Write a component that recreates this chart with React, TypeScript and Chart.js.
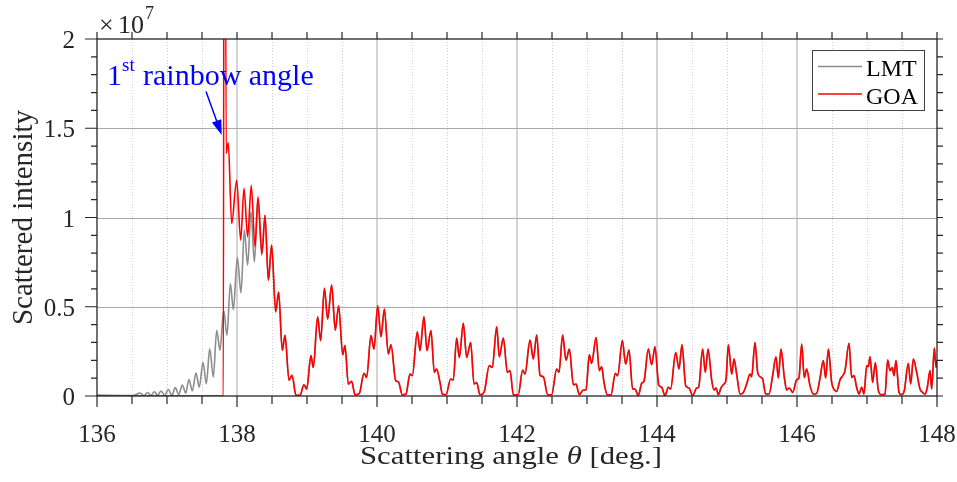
import { useEffect, useRef } from "react";
import { Chart, registerables } from "chart.js";

Chart.register(...registerables);

// Scattering angle (deg) and GOA intensity (x 1e7)
const goaTheta = [
  136.0, 137.805, 137.82, 137.845, 137.875, 137.924, 137.995, 138.053, 138.1, 138.152,
  138.204, 138.257, 138.3, 138.357, 138.4, 138.448, 138.495, 138.552, 138.595, 138.647,
  138.686, 138.743, 138.786, 138.843, 138.9, 138.957, 138.995, 139.057, 139.09, 139.152,
  139.195, 139.248, 139.295, 139.352, 139.404, 139.452, 139.51, 139.543, 139.59, 139.638,
  139.686, 139.748, 139.814, 139.852, 139.914, 139.957, 140.01, 140.057, 140.105, 140.162,
  140.2, 140.267, 140.305, 140.362, 140.414, 140.471, 140.505, 140.576, 140.614, 140.671,
  140.714, 140.771, 140.819, 140.852, 140.9, 140.933, 140.986, 141.052, 141.09, 141.138,
  141.176, 141.233, 141.281, 141.338, 141.386, 141.424, 141.471, 141.529, 141.604, 141.647,
  141.71, 141.747, 141.805, 141.862, 141.9, 141.948, 142.018, 142.081, 142.114, 142.186,
  142.233, 142.281, 142.328, 142.376, 142.438, 142.495, 142.567, 142.6, 142.652, 142.7,
  142.748, 142.805, 142.843, 142.89, 142.948, 142.986, 143.033, 143.067, 143.129, 143.176,
  143.21, 143.243, 143.29, 143.343, 143.405, 143.438, 143.505, 143.552, 143.6, 143.652,
  143.686, 143.733, 143.781, 143.814, 143.876, 143.924, 143.971, 144.024, 144.067, 144.114,
  144.162, 144.195, 144.267, 144.314, 144.357, 144.41, 144.457, 144.51, 144.567, 144.595,
  144.652, 144.69, 144.729, 144.781, 144.814, 144.843, 144.876, 144.914, 144.957, 144.986,
  145.019, 145.067, 145.1, 145.138, 145.186, 145.233, 145.281, 145.329, 145.352, 145.4,
  145.438, 145.471, 145.51, 145.552, 145.6, 145.652, 145.7, 145.733, 145.771, 145.819,
  145.852, 145.89, 145.938, 145.995, 146.029, 146.067, 146.104, 146.138, 146.186, 146.233,
  146.281, 146.329, 146.376, 146.41, 146.448, 146.495, 146.533, 146.567, 146.614, 146.662,
  146.686, 146.743, 146.781, 146.814, 146.852, 146.886, 146.924, 146.957, 146.995, 147.019,
  147.043, 147.081, 147.119, 147.162, 147.21, 147.257, 147.295, 147.329, 147.362, 147.386,
  147.414, 147.457, 147.495, 147.533, 147.59, 147.624, 147.662, 147.71, 147.757, 147.795,
  147.829, 147.862, 147.9, 147.924, 147.962, 147.986, 148.0,
];
const goaValue = [
  0.0, 0.0, 6.0, 1.36, 1.42, 0.966, 1.209, 0.873, 1.163, 0.892,
  1.181, 0.836, 1.116, 0.798, 1.013, 0.649, 0.845, 0.471, 0.583, 0.256,
  0.34, 0.088, 0.116, 0.004, 0.004, 0.063, 0.039, 0.226, 0.16, 0.444,
  0.31, 0.603, 0.431, 0.621, 0.369, 0.506, 0.231, 0.282, 0.067, 0.082,
  0.007, 0.015, 0.127, 0.104, 0.338, 0.263, 0.506, 0.332, 0.487, 0.235,
  0.287, 0.086, 0.08, 0.007, 0.011, 0.123, 0.114, 0.36, 0.254, 0.444,
  0.254, 0.366, 0.132, 0.151, 0.076, 0.011, 0.007, 0.095, 0.09, 0.325,
  0.216, 0.407, 0.216, 0.3, 0.067, 0.076, 0.007, 0.02, 0.17, 0.16,
  0.388, 0.22, 0.325, 0.132, 0.142, 0.007, 0.007, 0.146, 0.123, 0.313,
  0.207, 0.341, 0.118, 0.108, 0.007, 0.007, 0.151, 0.132, 0.341, 0.201,
  0.263, 0.063, 0.067, 0.007, 0.034, 0.034, 0.231, 0.183, 0.328, 0.142,
  0.164, 0.076, 0.007, 0.007, 0.127, 0.114, 0.31, 0.179, 0.257, 0.039,
  0.039, 0.002, 0.071, 0.082, 0.263, 0.175, 0.276, 0.063, 0.049, 0.002,
  0.049, 0.039, 0.244, 0.151, 0.287, 0.058, 0.045, 0.002, 0.045, 0.049,
  0.263, 0.132, 0.263, 0.09, 0.034, 0.045, 0.007, 0.045, 0.067, 0.09,
  0.287, 0.123, 0.207, 0.123, 0.011, 0.02, 0.067, 0.123, 0.108, 0.3,
  0.132, 0.108, 0.095, 0.011, 0.011, 0.114, 0.22, 0.101, 0.263, 0.104,
  0.034, 0.045, 0.02, 0.09, 0.104, 0.291, 0.104, 0.151, 0.058, 0.011,
  0.015, 0.101, 0.198, 0.101, 0.263, 0.076, 0.034, 0.026, 0.09, 0.119,
  0.142, 0.295, 0.104, 0.114, 0.049, 0.011, 0.049, 0.011, 0.17, 0.164,
  0.22, 0.076, 0.188, 0.03, 0.007, 0.011, 0.201, 0.142, 0.16, 0.114,
  0.198, 0.02, 0.007, 0.03, 0.183, 0.067, 0.207, 0.132, 0.039, 0.02,
  0.011, 0.049, 0.142, 0.039, 0.269, 0.16, 0.2,
];

// LMT below the rainbow angle; above 138.4 deg it follows the GOA curve
const lmtHeadTheta = [
  136.0, 136.52, 136.614, 136.67, 136.724, 136.77, 136.819, 136.866, 136.914, 136.967,
  137.019, 137.07, 137.119, 137.167, 137.219, 137.267, 137.314, 137.362, 137.414, 137.462,
  137.514, 137.562, 137.61, 137.662, 137.71, 137.757, 137.81, 137.857, 137.905, 137.948,
  138.005, 138.057, 138.105, 138.152, 138.2, 138.248, 138.3, 138.352,
];
const lmtHeadValue = [
  0.005, 0.003, 0.017, 0.002, 0.02, 0.003, 0.024, 0.004, 0.028, 0.004,
  0.036, 0.004, 0.047, 0.008, 0.062, 0.017, 0.092, 0.028, 0.129, 0.05,
  0.189, 0.069, 0.265, 0.107, 0.368, 0.256, 0.48, 0.34, 0.63, 0.484,
  0.776, 0.578, 0.929, 0.733, 1.032, 0.751, 1.1, 0.789,
];
const lmtJoinTheta = 138.4;

const xTickValues = [136, 138, 140, 142, 144, 146, 148];
const xTickLabels = ["136", "138", "140", "142", "144", "146", "148"];
const yTickValues = [0, 0.5, 1, 1.5, 2];
const yTickLabels = ["0", "0.5", "1", "1.5", "2"];
const seriesNames = ["LMT", "GOA"];

const AXIS = "#262626";
const SERIF = "'Liberation Serif', 'Times New Roman', serif";

type Run = { text: string; font: string };

function drawRuns(ctx: CanvasRenderingContext2D, runs: Run[], x: number, y: number, align: "left" | "center", width?: number) {
  let total = 0;
  const ws = runs.map((r) => {
    ctx.font = r.font;
    const w = ctx.measureText(r.text).width;
    total += w;
    return w;
  });
  const sx = width ? width / total : 1;
  ctx.save();
  ctx.translate(align === "center" ? x - (total * sx) / 2 : x, y);
  ctx.scale(sx, 1);
  ctx.textAlign = "left";
  ctx.textBaseline = "alphabetic";
  let cx = 0;
  runs.forEach((r, i) => {
    ctx.font = r.font;
    ctx.fillText(r.text, cx, 0);
    cx += ws[i];
  });
  ctx.restore();
}

const framePlugin = {
  id: "frame",
  beforeDatasetsDraw(chart: any) {
    const { ctx, chartArea: a, scales } = chart;
    const xs = scales.x;
    const ys = scales.y;
    ctx.save();
    // minor vertical grid (dotted), every 0.5 deg
    ctx.strokeStyle = "#cfcfcf";
    ctx.lineWidth = 1;
    ctx.setLineDash([1, 2]);
    for (let v = 136.5; v < 148; v += 0.5) {
      if (Math.abs(v / 2 - Math.round(v / 2)) < 1e-6) continue;
      const px = Math.round(xs.getPixelForValue(v)) + 0.5;
      ctx.beginPath();
      ctx.moveTo(px, a.top);
      ctx.lineTo(px, a.bottom);
      ctx.stroke();
    }
    ctx.setLineDash([]);
    // major vertical grid
    ctx.strokeStyle = "#c6c6c6";
    ctx.lineWidth = 1.5;
    xTickValues.slice(1, -1).forEach((v) => {
      const px = xs.getPixelForValue(v);
      ctx.beginPath();
      ctx.moveTo(px, a.top);
      ctx.lineTo(px, a.bottom);
      ctx.stroke();
    });
    // major horizontal grid
    ctx.strokeStyle = "#a8a8a8";
    ctx.lineWidth = 1;
    yTickValues.slice(1, -1).forEach((v) => {
      const py = Math.round(ys.getPixelForValue(v)) + 0.5;
      ctx.beginPath();
      ctx.moveTo(a.left, py);
      ctx.lineTo(a.right, py);
      ctx.stroke();
    });
    ctx.restore();
  },
  afterDatasetsDraw(chart: any) {
    const { ctx, chartArea: a, scales } = chart;
    const xs = scales.x;
    const ys = scales.y;
    ctx.save();
    // axes box
    ctx.strokeStyle = AXIS;
    ctx.lineWidth = 1.3;
    ctx.strokeRect(a.left, a.top, a.right - a.left, a.bottom - a.top);

    // x ticks (bottom and top)
    ctx.lineWidth = 1.2;
    for (let v = 136; v <= 148.0001; v += 0.5) {
      const px = xs.getPixelForValue(v);
      const major = Math.abs(v / 2 - Math.round(v / 2)) < 1e-6;
      ctx.beginPath();
      ctx.moveTo(px, a.bottom);
      ctx.lineTo(px, a.bottom + (major ? 11 : 8));
      ctx.moveTo(px, a.top);
      ctx.lineTo(px, a.top - 7);
      ctx.stroke();
    }
    // y ticks (left and right)
    for (let i = 0; i <= 20; i++) {
      const v = i / 10;
      const py = ys.getPixelForValue(v);
      const major = i % 5 === 0;
      ctx.beginPath();
      ctx.moveTo(a.left, py);
      ctx.lineTo(a.left - (major ? 12 : 6), py);
      ctx.moveTo(a.right, py);
      ctx.lineTo(a.right + 6, py);
      ctx.stroke();
    }

    // tick labels
    ctx.fillStyle = AXIS;
    ctx.font = `25px ${SERIF}`;
    ctx.textAlign = "center";
    ctx.textBaseline = "alphabetic";
    xTickValues.forEach((v, i) => {
      ctx.fillText(xTickLabels[i], xs.getPixelForValue(v), 442);
    });
    ctx.textAlign = "right";
    yTickValues.forEach((v, i) => {
      ctx.fillText(yTickLabels[i], 75, ys.getPixelForValue(v) + 9);
    });

    // exponent
    drawRuns(ctx, [{ text: "\u00d7", font: `26px ${SERIF}` }], 99, 33, "left");
    drawRuns(ctx, [{ text: "10", font: `26px ${SERIF}` }], 118, 33, "left");
    drawRuns(ctx, [{ text: "7", font: `18px ${SERIF}` }], 145, 19, "left");

    // axis titles
    drawRuns(
      ctx,
      [
        { text: "Scattering angle ", font: `25px ${SERIF}` },
        { text: "\u03b8", font: `italic 25px ${SERIF}` },
        { text: " [deg.]", font: `25px ${SERIF}` },
      ],
      511,
      464,
      "center",
      302
    );
    ctx.save();
    ctx.translate(32, (a.top + a.bottom) / 2);
    ctx.rotate(-Math.PI / 2);
    drawRuns(ctx, [{ text: "Scattered intensity", font: `29px ${SERIF}` }], 0, 0, "center");
    ctx.restore();

    // rainbow annotation
    ctx.fillStyle = "#0000ff";
    drawRuns(ctx, [{ text: "1", font: `30px ${SERIF}` }], 107, 85, "left");
    drawRuns(ctx, [{ text: "st", font: `19px ${SERIF}` }], 122, 71, "left");
    drawRuns(ctx, [{ text: "rainbow angle", font: `30px ${SERIF}` }], 143, 85, "left");
    const x0 = 206, y0 = 91.5, x1 = 221.7, y1 = 135;
    const ang = Math.atan2(y1 - y0, x1 - x0);
    ctx.strokeStyle = "#0000ff";
    ctx.lineWidth = 1.5;
    ctx.beginPath();
    ctx.moveTo(x0, y0);
    ctx.lineTo(x1 - 10 * Math.cos(ang), y1 - 10 * Math.sin(ang));
    ctx.stroke();
    const hl = 15, hw = 5;
    const bx = x1 - hl * Math.cos(ang), by = y1 - hl * Math.sin(ang);
    ctx.beginPath();
    ctx.moveTo(x1, y1);
    ctx.lineTo(bx + hw * Math.sin(ang), by - hw * Math.cos(ang));
    ctx.lineTo(bx - hw * Math.sin(ang), by + hw * Math.cos(ang));
    ctx.closePath();
    ctx.fill();

    // legend
    ctx.fillStyle = "#ffffff";
    ctx.fillRect(812, 50, 112, 60);
    ctx.strokeStyle = "#404040";
    ctx.lineWidth = 1;
    ctx.strokeRect(812.5, 50.5, 112, 60);
    const colors = ["#8c8c8c", "#ff0000"];
    const rows = [66.5, 94];
    seriesNames.forEach((name, i) => {
      ctx.strokeStyle = colors[i];
      ctx.lineWidth = 1.5;
      ctx.beginPath();
      ctx.moveTo(818, rows[i]);
      ctx.lineTo(862, rows[i]);
      ctx.stroke();
      ctx.fillStyle = "#000000";
      drawRuns(ctx, [{ text: name, font: `24px ${SERIF}` }], 866, rows[i] + 9.5, "left");
    });
    ctx.restore();
  },
};

export default function App() {
  const canvasRef = useRef<HTMLCanvasElement | null>(null);

  useEffect(() => {
    const canvas = canvasRef.current;
    if (!canvas) return;
    const goaPoints = goaTheta.map((x, i) => ({ x, y: goaValue[i] }));
    const lmtPoints = [
      ...lmtHeadTheta.map((x, i) => ({ x, y: lmtHeadValue[i] })),
      ...goaPoints.filter((p) => p.x >= lmtJoinTheta),
    ];
    const chart = new Chart(canvas, {
      type: "scatter",
      data: {
        datasets: [
          {
            label: seriesNames[0],
            data: lmtPoints,
            showLine: true,
            borderColor: "#8c8c8c",
            borderWidth: 1.6,
            pointRadius: 0,
            cubicInterpolationMode: "monotone",
            order: 1,
          },
          {
            label: seriesNames[1],
            data: goaPoints,
            showLine: true,
            borderColor: "#ff0000",
            borderWidth: 1.6,
            pointRadius: 0,
            cubicInterpolationMode: "monotone",
            order: 0,
          },
        ],
      },
      options: {
        responsive: false,
        animation: false,
        devicePixelRatio: 1,
        layout: { padding: { left: 97, right: 20, top: 39, bottom: 86 } },
        scales: {
          x: { type: "linear", min: 136, max: 148, display: false },
          y: { type: "linear", min: 0, max: 2, display: false },
        },
        plugins: { legend: { display: false }, tooltip: { enabled: false } },
        events: [],
      },
      plugins: [framePlugin],
    });
    return () => chart.destroy();
  }, []);

  return (
    <div style={{ position: "fixed", left: 0, top: 0, width: 957, height: 482, background: "#ffffff" }}>
      <canvas ref={canvasRef} width={957} height={482} style={{ width: 957, height: 482, display: "block" }} />
    </div>
  );
}
